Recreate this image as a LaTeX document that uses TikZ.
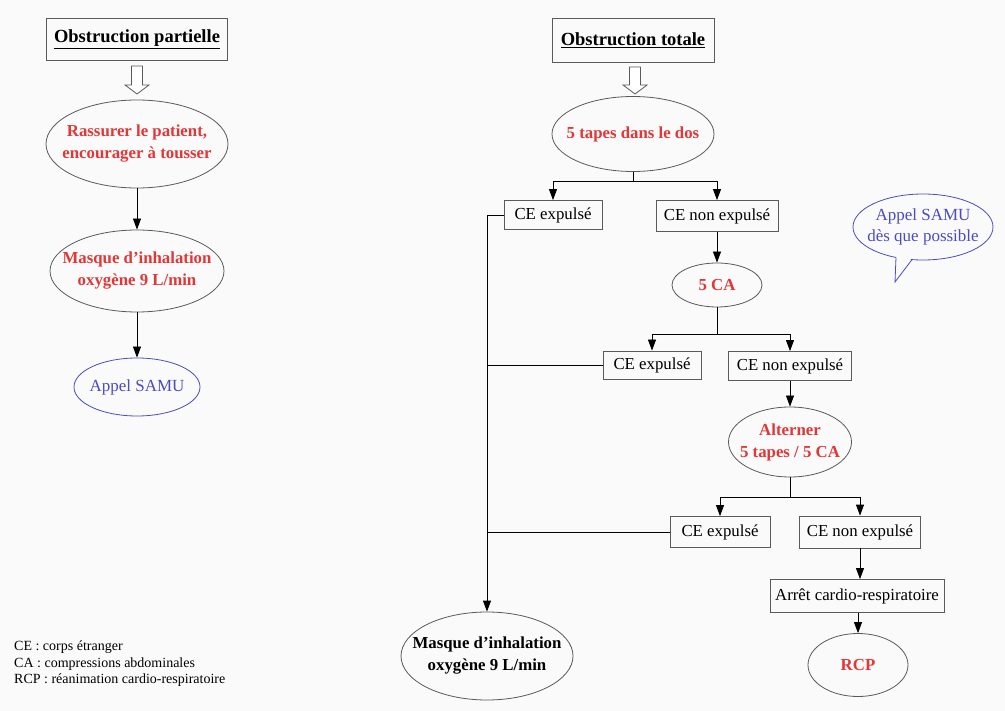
\documentclass[tikz,border=0pt]{standalone}
\usepackage{fontspec}
\setmainfont{Liberation Serif}
\usetikzlibrary{shapes.geometric,arrows.meta}
\definecolor{txtred}{RGB}{225,55,55}
\definecolor{txtblue}{RGB}{75,75,195}
\definecolor{linegray}{RGB}{90,90,90}
\definecolor{bgc}{RGB}{250,250,250}
\begin{document}
\begin{tikzpicture}[x=1pt,y=-1pt,
  box/.style={draw=linegray, line width=0.8pt, rectangle, inner sep=0pt, font=\fontsize{16.8}{19}\selectfont},
  titlebox/.style={box, font=\bfseries\fontsize{18.5}{21}\selectfont},
  ell/.style={draw=linegray, line width=0.8pt, ellipse, inner sep=0pt},
  redt/.style={text=txtred, font=\bfseries\fontsize{16.8}{22}\selectfont, align=center, inner sep=0pt},
  blkt/.style={text=black, font=\bfseries\fontsize{16.8}{22}\selectfont, align=center, inner sep=0pt},
  bluet/.style={text=txtblue, font=\fontsize{17}{21}\selectfont, align=center, inner sep=0pt},
  arr/.style={-{Triangle[length=11pt,width=8pt]}, line width=0.8pt, black},
  ln/.style={line width=0.8pt, black},
  hollow/.style={draw=linegray, line width=0.8pt, fill=white}]
\fill[bgc] (0,0) rectangle (1005,711);
\useasboundingbox (0,0) rectangle (1005,711);

% ---------- left column
\node[titlebox, minimum width=181pt, minimum height=42pt] (op) at (137,39) {\underline{Obstruction partielle}};
\draw[hollow] (131.5,66) -- (142.5,66) -- (142.5,85) -- (149,85) -- (137,94) -- (125,85) -- (131.5,85) -- cycle;
\node[ell, minimum width=182pt, minimum height=88pt, label={[redt]center:Rassurer le patient,\\encourager à tousser}] (e1) at (137,144) {};
\node[ell, minimum width=174pt, minimum height=82pt, label={[redt]center:Masque d’inhalation\\oxygène 9 L/min}] (e2) at (137,271) {};
\node[ell, draw=txtblue, minimum width=126pt, minimum height=58pt, label={[bluet]center:Appel SAMU}] (e3) at (137,387) {};
\draw[arr] (e1.south) -- (e2.north);
\draw[arr] (e2.south) -- (e3.north);

% ---------- right column
\node[titlebox, minimum width=162pt, minimum height=44pt] (ot) at (633,40) {\underline{Obstruction totale}};
\draw[hollow] (629.5,67) -- (640.5,67) -- (640.5,85) -- (647,85) -- (635,94) -- (623,85) -- (629.5,85) -- cycle;
\node[ell, minimum width=162pt, minimum height=75pt, label={[redt]center:5 tapes dans le dos}] (t5) at (633,134) {};

\node[box, minimum width=98pt, minimum height=29pt] (ce1) at (553,215) {CE expulsé};
\node[box, minimum width=122pt, minimum height=31pt] (nce1) at (717,216) {CE non expulsé};
\node[ell, minimum width=90pt, minimum height=44pt, label={[redt]center:5 CA}] (ca5) at (717,285) {};

\node[box, minimum width=98pt, minimum height=28pt] (ce2) at (652,365) {CE expulsé};
\node[box, minimum width=123pt, minimum height=29pt] (nce2) at (790,366) {CE non expulsé};
\node[ell, minimum width=123pt, minimum height=70pt, label={[redt]center:Alterner\\5 tapes / 5 CA}] (alt) at (790,442) {};

\node[box, minimum width=100pt, minimum height=31pt] (ce3) at (720,532) {CE expulsé};
\node[box, minimum width=121pt, minimum height=32pt] (nce3) at (860,532) {CE non expulsé};
\node[box, minimum width=174pt, minimum height=33pt] (acr) at (857,596) {Arrêt cardio-respiratoire};
\node[ell, minimum width=100pt, minimum height=63pt, label={[redt]center:RCP}] (rcp) at (858,665) {};

\node[ell, minimum width=172pt, minimum height=88pt, label={[blkt]center:Masque d’inhalation\\oxygène 9 L/min}] (mb) at (487,656) {};

% branches
\draw[ln] (t5.south) -- ++(0,10) coordinate (b1);
\draw[arr] (b1) -| (ce1.north);
\draw[arr] (b1) -| (nce1.north);
\draw[arr] (nce1.south) -- (ca5.north);
\draw[ln] (ca5.south) -- ++(0,27) coordinate (b2);
\draw[arr] (b2) -| (ce2.north);
\draw[arr] (b2) -| (nce2.north);
\draw[arr] (nce2.south) -- (alt.north);
\draw[ln] (alt.south) -- ++(0,20) coordinate (b3);
\draw[arr] (b3) -| (ce3.north);
\draw[arr] (b3) -| (nce3.north);
\draw[arr] (nce3.south) -- (nce3.south |- acr.north);
\draw[arr] (acr.south -| rcp.north) -- (rcp.north);

% collector line to bottom mask
\draw[arr] (ce1.west) -- (ce1.west -| mb.north) -- (mb.north);
\draw[ln] (ce2.west) -- (ce2.west -| mb.north);
\draw[ln] (ce3.west) -- (ce3.west -| mb.north);

% speech bubble
\node[ell, draw=txtblue, minimum width=140pt, minimum height=66pt, label={[bluet]center:Appel SAMU\\dès que possible}] (bub) at (923,227) {};
\fill[bgc] (896,255.5) -- (895,282) -- (912,257.5) -- cycle;
\draw[txtblue, line width=0.8pt] (896,257.4) -- (895,282) -- (912,259.6);

% legend
\node[anchor=north west, align=left, inner sep=0pt, font=\fontsize{14}{16.5}\selectfont] (leg) at (14,641) {CE : corps étranger\\CA : compressions abdominales\\RCP : réanimation cardio-respiratoire};
\end{tikzpicture}
\end{document}
